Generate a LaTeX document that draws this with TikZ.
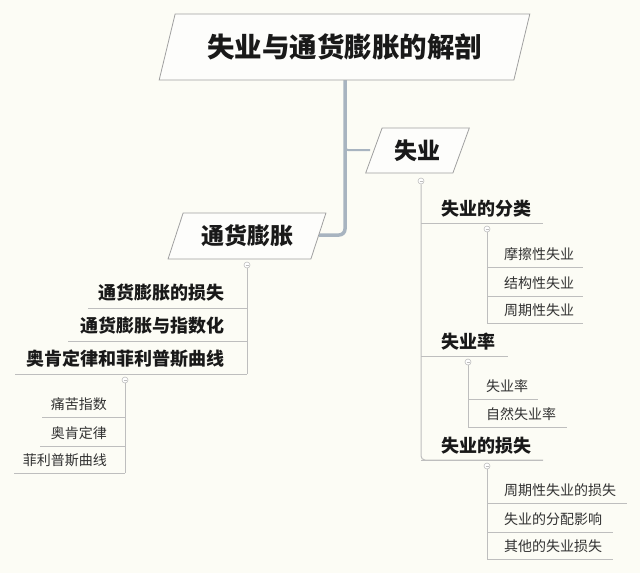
\documentclass[tikz,border=0pt]{standalone}
\usepackage{fontspec}
\setmainfont{Noto Sans CJK SC}
\usetikzlibrary{shapes.geometric}
\definecolor{bgpaper}{RGB}{252,252,245}
\definecolor{trunkblue}{RGB}{168,180,192}
\definecolor{linegray}{RGB}{190,190,190}
\definecolor{boxedge}{RGB}{160,160,160}
\definecolor{boxfill}{RGB}{253,253,251}
\definecolor{inkdark}{RGB}{25,25,25}
\definecolor{inkleaf}{RGB}{50,50,50}
\tikzset{
  topic/.style={trapezium, trapezium left angle=64, trapezium right angle=116,
    trapezium stretches=true, draw=boxedge, fill=boxfill, line width=0.8pt,
    text=inkdark, font=\bfseries, inner sep=0pt},
  trunk/.style={trunkblue, line width=3.5pt, rounded corners=6pt},
  branch/.style={linegray, line width=1pt},
  fold/.style={circle, draw=linegray, fill=white, line width=0.6pt,
    minimum size=6pt, inner sep=0pt,
    path picture={\draw[linegray, line width=0.6pt] ([xshift=-1.5pt]path picture bounding box.center) -- ([xshift=1.5pt]path picture bounding box.center);}},
  mid/.style={font=\fontsize{18}{18}\selectfont\bfseries, text=inkdark, inner sep=0pt},
  leaf/.style={font=\fontsize{14}{14}\selectfont, text=inkleaf, inner sep=0pt}
}
\begin{document}
\begin{tikzpicture}[x=1pt,y=-1pt]
\fill[bgpaper] (0,0) rectangle (640,573);
% main topics
\draw[trunk] (345,80) |- (319,235);
\draw[trunkblue, line width=2pt, rounded corners=3pt] (345,142) |- (370,150);
\node[topic, minimum width=372pt, minimum height=66pt,
  font=\fontsize{27.5}{27.5}\selectfont\bfseries] (title) at (344.5,47) {失业与通货膨胀的解剖};
\node[topic, minimum width=104pt, minimum height=45pt,
  font=\fontsize{23}{23}\selectfont\bfseries] (shiye) at (417.5,150.5) {失业};
\node[topic, minimum width=158pt, minimum height=46pt,
  font=\fontsize{23}{23}\selectfont\bfseries] (tongzhang) at (247,236) {通货膨胀};
% left side
\node[fold] (tzfold) at (247,265) {};
\draw[branch] (tzfold.south) -- (247,374);
\foreach \txt/\y/\xs in {通货膨胀的损失/308/88, 通货膨胀与指数化/341/68, 奥肯定律和菲利普斯曲线/374/15} {
  \node[mid, anchor=east] at (225,\y-15) {\txt};
  \draw[branch] (247,\y) -- (\xs,\y);
}
\node[fold] (okfold) at (125,380) {};
\draw[branch] (okfold.south) -- (125,473);
\foreach \txt/\y/\xs in {痛苦指数/417/42, 奥肯定律/446/40, 菲利普斯曲线/473/14} {
  \node[leaf, anchor=east] at (107,\y-12.5) {\txt};
  \draw[branch] (125,\y) -- (\xs,\y);
}
% right side
\node[fold] (syfold) at (421,181) {};
\draw[branch, rounded corners=4pt] (syfold.south) |- (543,460);
\foreach \txt/\y/\xe in {失业的分类/223/543, 失业率/356/508, 失业的损失/460/543} {
  \node[mid, anchor=west] at (441,\y-14) {\txt};
  \draw[branch] (421,\y) -- (\xe,\y);
}
\node[fold] (flfold) at (487,229) {};
\draw[branch] (flfold.south) -- (487,323);
\foreach \txt/\y in {摩擦性失业/267, 结构性失业/296, 周期性失业/323} {
  \node[leaf, anchor=west] at (504,\y-13) {\txt};
  \draw[branch] (487,\y) -- (583,\y);
}
\node[fold] (slfold) at (468,362) {};
\draw[branch] (slfold.south) -- (468,427);
\foreach \txt/\y/\xe in {失业率/399/538, 自然失业率/427/567} {
  \node[leaf, anchor=west] at (486,\y-12.5) {\txt};
  \draw[branch] (468,\y) -- (\xe,\y);
}
\node[fold] (ssfold) at (487,466) {};
\draw[branch] (ssfold.south) -- (487,559);
\foreach \txt/\y/\xe in {周期性失业的损失/503/627, 失业的分配影响/532/613, 其他的失业损失/559/613} {
  \node[leaf, anchor=west] at (504,\y-12.5) {\txt};
  \draw[branch] (487,\y) -- (\xe,\y);
}
\end{tikzpicture}
\end{document}
